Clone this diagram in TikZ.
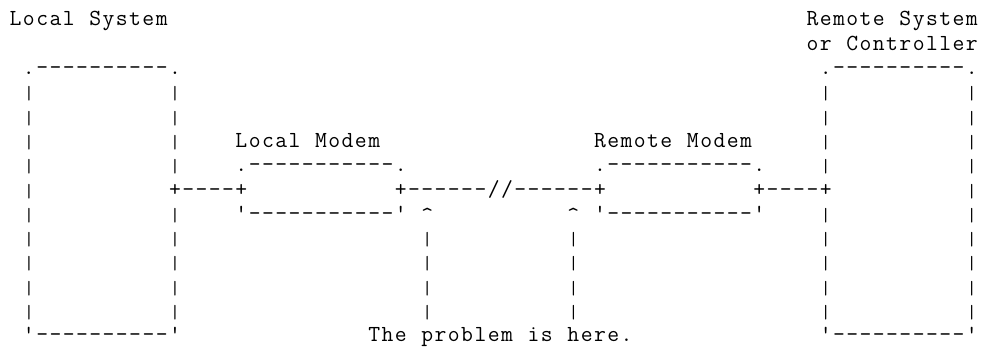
\documentclass[tikz,border=0pt]{standalone}
\usepackage{fontspec}
\newcommand\hatc{\raisebox{-2pt}{\textasciicircum}}
\newcommand\qq{\textquotesingle}
\newcommand\vb{\raisebox{-1pt}{\fontsize{19pt}{19pt}\selectfont|}}
\makeatletter
\newcommand\cells[1]{\cells@#1\cells@end}
\def\cells@end{\cells@end}
\def\cells@#1{\ifx#1\cells@end\else\makebox[13.28pt][c]{#1}\expandafter\cells@\fi}
\makeatother
\tikzset{txt/.style={anchor=base west,inner sep=0pt,outer sep=0pt,font=\ttfamily\fontsize{23pt}{24pt}\selectfont,text=black}}
\newcommand\seg[4]{\node[txt] (#1) at ({9+#2*13.28},{26+#3*24.3}) {\cells{#4}};}
\begin{document}
\begin{tikzpicture}[x=1pt,y=-1pt]
\useasboundingbox (0,0) rectangle (982,347);
% titles
\seg{locsys}{0}{0}{Local~System}
\seg{remsys}{60}{0}{Remote~System}
\seg{remctl}{60}{1}{or~Controller}
% box tops
\seg{lbtop}{1}{2}{.----------.}
\seg{rbtop}{61}{2}{.----------.}
% side bars of the big boxes
\foreach \r in {3,4,5,6,8,9,10,11,12}{
  \seg{lbl\r}{1}{\r}{\vb}
  \seg{lbr\r}{12}{\r}{\vb}
  \seg{rbl\r}{61}{\r}{\vb}
  \seg{rbr\r}{72}{\r}{\vb}
}
\seg{lbl7}{1}{7}{\vb}
\seg{rbr7}{72}{7}{\vb}
% modem labels
\seg{lmlab}{17}{5}{Local~Modem}
\seg{rmlab}{44}{5}{Remote~Modem}
% modem tops
\seg{lmtop}{17}{6}{.-----------.}
\seg{rmtop}{44}{6}{.-----------.}
% connection line
\seg{linkL}{12}{7}{+----+}
\seg{linkM}{29}{7}{+------//------+}
\seg{linkR}{56}{7}{+----+}
% modem bottoms with arrow heads
\seg{lmbot}{17}{8}{\qq-----------\qq}
\seg{hatL}{31}{8}{\hatc}
\seg{hatR}{42}{8}{\hatc}
\seg{rmbot}{44}{8}{\qq-----------\qq}
% arrow shafts
\foreach \r in {9,10,11,12}{
  \seg{shL\r}{31}{\r}{\vb}
  \seg{shR\r}{42}{\r}{\vb}
}
% bottoms
\seg{lbbot}{1}{13}{\qq----------\qq}
\seg{prob}{27}{13}{The~problem~is~here.}
\seg{rbbot}{61}{13}{\qq----------\qq}
\end{tikzpicture}
\end{document}
